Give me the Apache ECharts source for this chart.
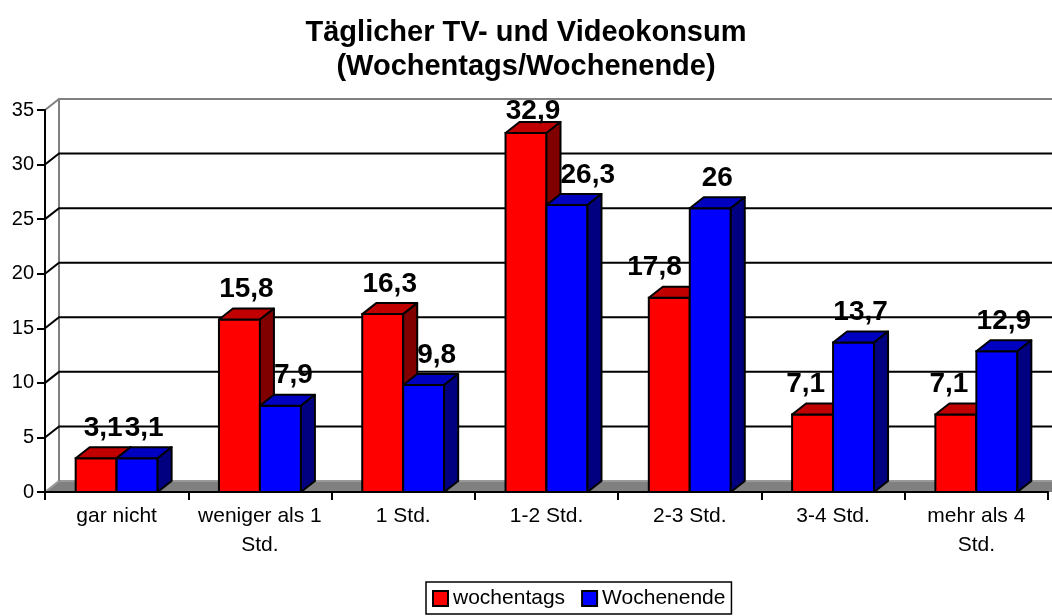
<!DOCTYPE html>
<html>
<head>
<meta charset="utf-8">
<script src="https://cdn.jsdelivr.net/npm/echarts@6/dist/echarts.min.js"></script>
<style>
html, body { margin: 0; padding: 0; background: #fff; }
#main { width: 1052px; height: 616px; }
</style>
</head>
<body>
<div id="main"></div>
<script>
var categories = ['gar nicht', 'weniger als 1 Std.', '1 Std.', '1-2 Std.', '2-3 Std.', '3-4 Std.', 'mehr als 4 Std.'];
var wochentags = [3.1, 15.8, 16.3, 32.9, 17.8, 7.1, 7.1];
var wochenende = [3.1, 7.9, 9.8, 26.3, 26, 13.7, 12.9];
var yTicks = [0, 5, 10, 15, 20, 25, 30, 35];

var FONT = '"Liberation Sans", Arial, sans-serif';
var DX = 14, DY = -11;   // Tiefe (3D)
var BAR = 0.286;          // Balkenbreite je Kategorie
var LABEL_FONT = 'bold 28px ' + FONT;

var ctx = document.createElement('canvas').getContext('2d');
ctx.font = LABEL_FONT;

function fmt(v) {
    return String(v).replace('.', ',');
}

// Rueckwand, Boden und Gitterlinien
function renderWall(params, api) {
    var v = api.value(1);
    var cs = params.coordSys;
    var y = api.coord([0, v])[1];
    var x1 = cs.x, x2 = cs.x + cs.width + 40;
    var children = [];
    if (v === yTicks[0]) {
        var topY = api.coord([0, yTicks[yTicks.length - 1]])[1];
        children.push({
            type: 'polygon',
            shape: { points: [[x1, y], [x2, y], [x2 + DX, y + DY], [x1 + DX, y + DY]] },
            style: { fill: '#808080', stroke: null }
        });
        children.push({
            type: 'polyline',
            shape: { points: [[x1, y], [x1 + DX, y + DY], [x2 + DX, y + DY]] },
            style: { stroke: '#9a9a9a', lineWidth: 2, fill: null }
        });
        children.push({
            type: 'line',
            shape: { x1: x1 + DX, y1: y + DY, x2: x1 + DX, y2: topY + DY },
            style: { stroke: '#808080', lineWidth: 2 }
        });
    } else {
        var col = v === yTicks[yTicks.length - 1] ? '#808080' : '#000';
        children.push({
            type: 'polyline',
            shape: { points: [[x1, y], [x1 + DX, y + DY], [x2 + DX, y + DY]] },
            style: { stroke: col, lineWidth: 2, fill: null }
        });
    }
    return { type: 'group', children: children };
}

function makeBarRenderer(idx, values, front, top, side) {
    return function (params, api) {
        var i = api.value(0);
        var v = api.value(1);
        var p = api.coord([i, v]);
        var base = api.coord([i, 0])[1];
        var bw = api.size([1, 0])[0] * BAR;
        var x0 = p[0] - bw + idx * bw;
        var y0 = p[1];
        var children = [
            {
                type: 'rect',
                shape: { x: x0, y: y0, width: bw, height: base - y0 },
                style: { fill: front, stroke: '#000', lineWidth: 2 }
            },
            {
                type: 'polygon',
                shape: { points: [[x0, y0], [x0 + DX, y0 + DY], [x0 + bw + DX, y0 + DY], [x0 + bw, y0]] },
                style: { fill: top, stroke: '#000', lineWidth: 2, lineJoin: 'round' }
            },
            {
                type: 'polygon',
                shape: { points: [[x0 + bw, y0], [x0 + bw + DX, y0 + DY], [x0 + bw + DX, base + DY], [x0 + bw, base]] },
                style: { fill: side, stroke: '#000', lineWidth: 2, lineJoin: 'round' }
            }
        ];

        // Beschriftung ueber dem Balken, seitlich verschoben wenn der Nachbar hoeher ist
        var txt = fmt(values[i]);
        var tw = ctx.measureText(txt).width;
        var lx = x0 + bw / 2 + DX / 2;
        if (idx === 1 && wochentags[i] > v) {
            lx = Math.max(lx, x0 + DX + tw / 2);
        }
        if (idx === 0 && wochenende[i] > v) {
            lx = Math.min(lx, x0 + bw - 8 - tw / 2);
        }
        var wallTop = api.coord([i, yTicks[yTicks.length - 1]])[1] + DY;
        var bottom = Math.max(y0 + DY - 9, wallTop + 22);
        children.push({
            type: 'text',
            z2: 10,
            style: {
                text: txt, x: lx, y: bottom - 10,
                font: LABEL_FONT, fill: '#000',
                align: 'center', verticalAlign: 'middle'
            }
        });
        return { type: 'group', children: children };
    };
}

var myChart = echarts.init(document.getElementById('main'));

var option = {
    animation: false,
    title: {
        text: 'Täglicher TV- und Videokonsum\n(Wochentags/Wochenende)',
        left: 'center',
        top: 16,
        padding: [0, 0, 0, 9],
        textStyle: { fontSize: 29, fontWeight: 'bold', lineHeight: 34, fontFamily: FONT, color: '#000' }
    },
    legend: {
        data: ['wochentags', 'Wochenende'],
        left: 426,
        top: 582,
        icon: 'rect',
        itemWidth: 15,
        itemHeight: 15,
        itemGap: 16,
        borderColor: '#000',
        borderWidth: 1.5,
        padding: [6, 6, 5, 6],
        itemStyle: { borderColor: '#000', borderWidth: 2 },
        textStyle: { fontSize: 21, fontFamily: FONT, color: '#000' }
    },
    grid: { left: 45, right: 4, top: 110, bottom: 124 },
    xAxis: {
        type: 'category',
        data: categories,
        z: 3,
        axisLine: { lineStyle: { color: '#000', width: 2 } },
        axisTick: { show: true, length: 8, lineStyle: { color: '#000', width: 2 } },
        axisLabel: {
            interval: 0,
            fontSize: 21,
            lineHeight: 29,
            margin: 10,
            color: '#000',
            fontFamily: FONT,
            formatter: function (value) {
                if (value.length > 8) {
                    return value.replace(/ (Std\.)$/, '\n$1');
                }
                return value;
            }
        }
    },
    yAxis: {
        type: 'value',
        min: 0,
        max: 35,
        interval: 5,
        z: 3,
        axisLine: { show: true, lineStyle: { color: '#000', width: 2 } },
        axisTick: { show: true, length: 8, lineStyle: { color: '#000', width: 2 } },
        axisLabel: { fontSize: 20, color: '#000', fontFamily: FONT, margin: 11 },
        splitLine: { show: false }
    },
    series: [
        {
            name: 'wall',
            type: 'custom',
            z: 1,
            silent: true,
            encode: { x: 0, y: 1 },
            data: yTicks.map(function (v) { return [0, v]; }),
            renderItem: renderWall
        },
        {
            name: 'wochentags',
            type: 'custom',
            itemStyle: { color: '#ff0000' },
            encode: { x: 0, y: 1 },
            data: wochentags.map(function (v, i) { return [i, v]; }),
            renderItem: makeBarRenderer(0, wochentags, '#ff0000', '#c00000', '#800000')
        },
        {
            name: 'Wochenende',
            type: 'custom',
            itemStyle: { color: '#0000ff' },
            encode: { x: 0, y: 1 },
            data: wochenende.map(function (v, i) { return [i, v]; }),
            renderItem: makeBarRenderer(1, wochenende, '#0000ff', '#0000c0', '#000080')
        }
    ]
};

myChart.setOption(option);
</script>
</body>
</html>
